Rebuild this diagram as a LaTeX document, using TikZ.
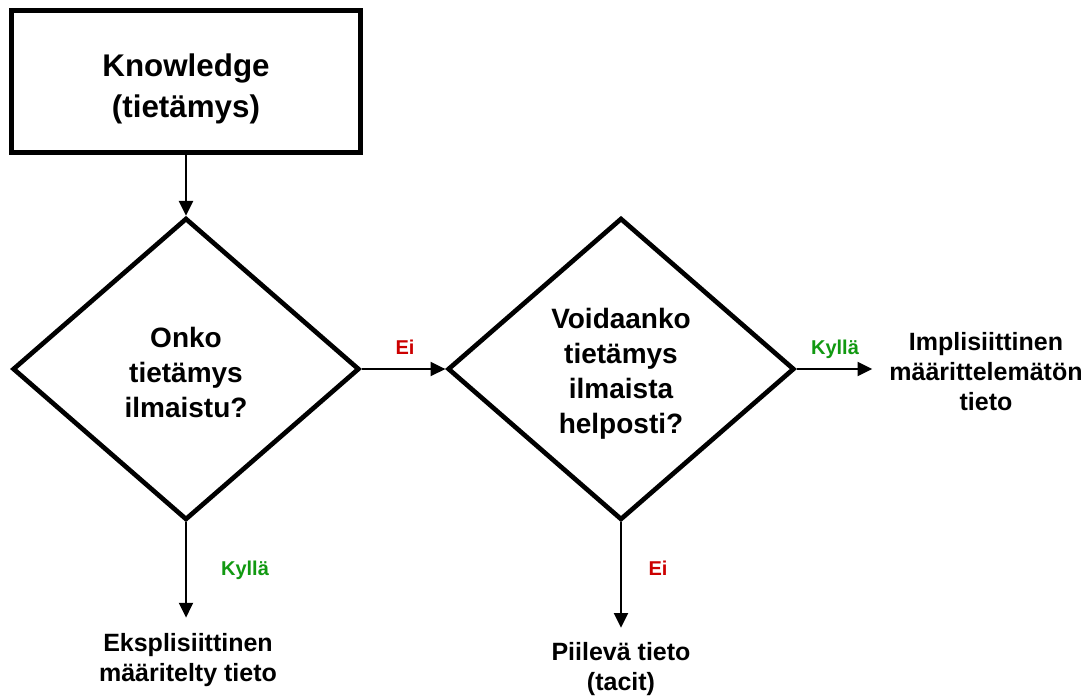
\documentclass[tikz,border=0pt]{standalone}
\usepackage{fontspec}
\setmainfont{Liberation Sans}
\usetikzlibrary{shapes.geometric, arrows.meta}
\definecolor{noc}{RGB}{204,0,0}
\definecolor{yesc}{RGB}{17,153,17}
\begin{document}
\begin{tikzpicture}[x=0.75pt, y=-0.75pt,
  every node/.style={align=center, inner sep=0pt},
  startbox/.style={draw, line width=4pt, minimum width=261.4pt, minimum height=106.1pt},
  question/.style={draw, shape=diamond, line width=3.5pt, minimum width=260pt, minimum height=226.5pt},
  starttext/.style={font=\fontsize{23.5}{30.75}\selectfont\bfseries},
  questiontext/.style={font=\fontsize{21}{26.25}\selectfont\bfseries},
  outcome/.style={font=\fontsize{18.75}{22.5}\selectfont\bfseries},
  answer/.style={font=\fontsize{15}{18}\selectfont\bfseries},
  flow/.style={-{Triangle[length=11pt,width=10.5pt]}, line width=1.5pt},
]
% canvas
\fill[white] (0,0) rectangle (1087,695);
\useasboundingbox (0,0) rectangle (1087,695);

% start box and the two questions
\node[startbox] (kn) at (186,81.5) {};
\node[starttext] (kntext) at (186,88.5) {Knowledge\\(tietämys)};
\node[question] (d1) at (186,369) {};
\node[questiontext] (q1) at (186,372) {Onko\\tietämys\\ilmaistu?};
\node[question] (d2) at (621,369) {};
\node[questiontext] (q2) at (621,374) {Voidaanko\\tietämys\\ilmaista\\helposti?};

% outcomes
\node[outcome] (impl) at (986,372) {Implisiittinen\\määrittelemätön\\tieto};
\node[outcome] (eks) at (188,660.5) {Eksplisiittinen\\määritelty tieto};
\node[outcome] (piil) at (621,668.6) {Piilevä tieto\\(tacit)};

% connectors
\draw[flow] (kn.south) -- (d1.north);
\draw[flow] (d1.east) -- (d2.west);
\draw[flow, shorten >=12.75pt] (d2.east) -- (d2.east -| impl.west);
\draw[flow, shorten >=12pt] (d1.south) -- (d1.south |- eks.north);
\draw[flow, shorten >=10.5pt] (d2.south) -- (d2.south |- piil.north);

% answer labels
\node[answer, text=noc] (no1) at (405,347) {Ei};
\node[answer, text=yesc] (yes2) at (835,349) {Kyllä};
\node[answer, text=yesc] (yes1) at (245,570) {Kyllä};
\node[answer, text=noc] (no2) at (658,568) {Ei};
\end{tikzpicture}
\end{document}
